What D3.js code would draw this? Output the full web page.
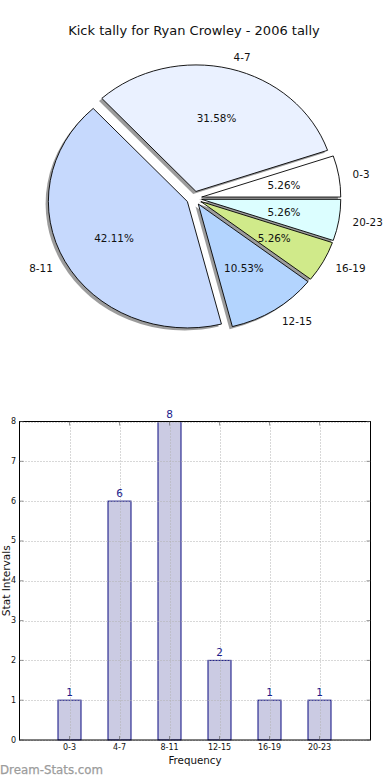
<!DOCTYPE html>
<html>
<head>
<meta charset="utf-8">
<script src="https://cdn.jsdelivr.net/npm/d3@7"></script>
<style>
  html, body { margin: 0; padding: 0; background: #fff; }
  svg { display: block; font-family: "DejaVu Sans", sans-serif; }
</style>
</head>
<body>
<svg id="chart" width="390" height="780"></svg>
<script>
// ---- data ----
const chartTitle = "Kick tally for Ryan Crowley - 2006 tally";
const categories = ["0-3", "4-7", "8-11", "12-15", "16-19", "20-23"];
const counts = [1, 6, 8, 2, 1, 1];
const yTickValues = [0, 1, 2, 3, 4, 5, 6, 7, 8];
const xAxisLabel = "Frequency";
const yAxisLabel = "Stat Intervals";
const watermark = "Dream-Stats.com";

// ---- styles ----
const pieColors = ["#ffffff", "#eaf1ff", "#c6d9fd", "#b3d4fe", "#d0ea8a", "#dcfeff"];
const explodeFrac = 0.055;

(function () {
const svg = d3.select("#chart");

// ---- title ----
svg.append("text")
  .attr("x", 194).attr("y", 30)
  .attr("text-anchor", "middle").attr("dominant-baseline", "central")
  .attr("font-size", 13).attr("fill", "#111")
  .text(chartTitle);

// ---- pie (elliptical, matplotlib-style: start at 3 o'clock, counter-clockwise) ----
const cx = 194.1, cy = 198.2, rx = 139.1, ry = 126.5;
const total = d3.sum(counts);
const pie = d3.pie().sort(null).startAngle(Math.PI / 2).endAngle(Math.PI / 2 - 2 * Math.PI);
const arcs = pie(counts);
const unitArc = d3.arc().innerRadius(0).outerRadius(1);

function dir(a) { return [Math.sin(a), -Math.cos(a)]; }

const pieG = svg.append("g");
// shadows first (beneath all wedges)
arcs.forEach((a) => {
  const m = (a.startAngle + a.endAngle) / 2;
  const [dx, dy] = dir(m);
  const ox = cx + explodeFrac * rx * dx - 0.02 * rx;
  const oy = cy + explodeFrac * ry * dy + 0.02 * ry;
  pieG.append("path")
    .attr("transform", `translate(${ox},${oy}) scale(${rx},${ry})`)
    .attr("d", unitArc(a))
    .attr("fill", "#3a3a3a").attr("fill-opacity", 0.5)
    .attr("stroke", "none");
});
arcs.forEach((a, i) => {
  const m = (a.startAngle + a.endAngle) / 2;
  const [dx, dy] = dir(m);
  const ox = cx + explodeFrac * rx * dx;
  const oy = cy + explodeFrac * ry * dy;
  pieG.append("path")
    .attr("transform", `translate(${ox},${oy}) scale(${rx},${ry})`)
    .attr("d", unitArc(a))
    .attr("fill", pieColors[i])
    .attr("stroke", "#000").attr("stroke-width", 0.9)
    .attr("vector-effect", "non-scaling-stroke")
    .attr("stroke-linejoin", "miter");
});
arcs.forEach((a, i) => {
  const m = (a.startAngle + a.endAngle) / 2;
  const [dx, dy] = dir(m);
  const lf = 1.1 + explodeFrac, pf = 0.6 + explodeFrac;
  pieG.append("text")
    .attr("x", cx + lf * rx * dx).attr("y", cy + lf * ry * dy)
    .attr("text-anchor", dx > 0 ? "start" : "end")
    .attr("dominant-baseline", "central")
    .attr("font-size", 10.4).attr("fill", "#111")
    .text(categories[i]);
  pieG.append("text")
    .attr("x", cx + pf * rx * dx).attr("y", cy + pf * ry * dy)
    .attr("text-anchor", "middle")
    .attr("dominant-baseline", "central")
    .attr("font-size", 10.4).attr("fill", "#111")
    .text((counts[i] / total * 100).toFixed(2) + "%");
});

// ---- bar chart ----
const pLeft = 19.5, pRight = 370.5, pTop = 421.5, pBottom = 740;
const x = d3.scaleLinear().domain([-1, 6.02]).range([pLeft, pRight]);
const y = d3.scaleLinear().domain([0, 8]).range([pBottom, pTop]);
const barW = 0.46;
const barG = svg.append("g");

barG.selectAll("rect.bar").data(counts).enter().append("rect")
  .attr("class", "bar")
  .attr("x", (d, i) => x(i - barW / 2))
  .attr("width", (d, i) => x(i + barW / 2) - x(i - barW / 2))
  .attr("y", d => y(d))
  .attr("height", d => y(0) - y(d))
  .attr("fill", "#cbcbe3")
  .attr("stroke", "#0a0a80").attr("stroke-width", 1);

// grid (drawn above bars, like the reference)
const gridG = barG.append("g").attr("stroke", "#b0b0b0").attr("stroke-width", 1)
  .attr("stroke-dasharray", "1,2");
yTickValues.forEach(v => {
  gridG.append("line").attr("x1", pLeft).attr("x2", pRight)
    .attr("y1", Math.round(y(v)) + 0.5).attr("y2", Math.round(y(v)) + 0.5);
});
categories.forEach((c, i) => {
  gridG.append("line").attr("y1", pTop).attr("y2", pBottom)
    .attr("x1", Math.round(x(i)) + 0.5).attr("x2", Math.round(x(i)) + 0.5);
});

// axes frame
barG.append("rect").attr("x", pLeft).attr("y", pTop)
  .attr("width", pRight - pLeft).attr("height", pBottom - pTop)
  .attr("fill", "none").attr("stroke", "#000").attr("stroke-width", 1);

// ticks (inward, all sides)
const tickG = barG.append("g").attr("stroke", "#555").attr("stroke-width", 0.6);
yTickValues.forEach(v => {
  const yy = y(v);
  tickG.append("line").attr("x1", pLeft).attr("x2", pLeft + 4).attr("y1", yy).attr("y2", yy);
  tickG.append("line").attr("x1", pRight).attr("x2", pRight - 4).attr("y1", yy).attr("y2", yy);
});
categories.forEach((c, i) => {
  const xx = x(i);
  tickG.append("line").attr("x1", xx).attr("x2", xx).attr("y1", pBottom).attr("y2", pBottom - 4);
  tickG.append("line").attr("x1", xx).attr("x2", xx).attr("y1", pTop).attr("y2", pTop + 4);
});

// y tick labels
yTickValues.forEach(v => {
  barG.append("text").attr("x", pLeft - 3.5).attr("y", y(v))
    .attr("text-anchor", "end").attr("dominant-baseline", "central")
    .attr("font-size", 8).attr("fill", "#111").text(v);
});
// x tick labels
categories.forEach((c, i) => {
  barG.append("text").attr("x", x(i)).attr("y", pBottom + 7.5)
    .attr("text-anchor", "middle").attr("dominant-baseline", "central")
    .attr("font-size", 8).attr("fill", "#111").text(c);
});

// value labels
counts.forEach((d, i) => {
  barG.append("text").attr("x", x(i)).attr("y", y(d) - 4)
    .attr("text-anchor", "middle")
    .attr("font-size", 10.5).attr("fill", "#1c1c8c").text(d);
});

// axis labels
barG.append("text").attr("x", (pLeft + pRight) / 2).attr("y", 760)
  .attr("text-anchor", "middle").attr("dominant-baseline", "central")
  .attr("font-size", 10.3).attr("fill", "#111").text(xAxisLabel);
barG.append("text")
  .attr("transform", `translate(5.5,${(pTop + pBottom) / 2}) rotate(-90)`)
  .attr("text-anchor", "middle").attr("dominant-baseline", "central")
  .attr("font-size", 10.6).attr("fill", "#111").text(yAxisLabel);

// watermark
svg.append("text").attr("x", 0).attr("y", 770)
  .attr("dominant-baseline", "central")
  .attr("font-size", 11.8).attr("fill", "#9c9c9c")
  .attr("stroke", "#9c9c9c").attr("stroke-width", 0.25)
  .text(watermark);
})();
</script>
</body>
</html>
